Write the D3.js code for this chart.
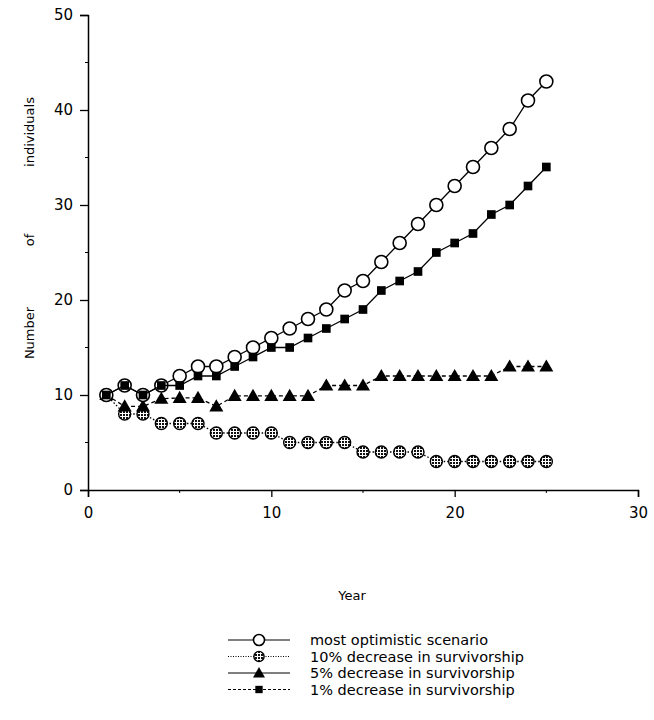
<!DOCTYPE html>
<html><head><meta charset="utf-8">
<script src="https://cdn.jsdelivr.net/npm/d3@7"></script>
<style>body{margin:0;background:#fff} text{font-family:"DejaVu Sans",sans-serif;fill:#000}</style>
</head><body><svg id="c" width="654" height="720"></svg>
<script>
const years = [1,2,3,4,5,6,7,8,9,10,11,12,13,14,15,16,17,18,19,20,21,22,23,24,25];
const optimistic = [10,11,10,11,12,13,13,14,15,16,17,18,19,21,22,24,26,28,30,32,34,36,38,41,43];
const dec10 = [10,8,8,7,7,7,6,6,6,6,5,5,5,5,4,4,4,4,3,3,3,3,3,3,3];
const dec5 = [10,8.8,8.8,9.6,9.7,9.7,8.8,9.9,9.9,9.9,9.9,9.9,11,11,11,12,12,12,12,12,12,12,13,13,13];
const dec1 = [10,11,10,11,11,12,12,13,14,15,15,16,17,18,19,21,22,23,25,26,27,29,30,32,34];
const xTicks = [0,10,20,30];
const yTicks = [0,10,20,30,40,50];
const legendLabels = ["most optimistic scenario","10% decrease in survivorship","5% decrease in survivorship","1% decrease in survivorship"];

const svg = d3.select("#c");
const x = d3.scaleLinear().domain([0,30]).range([88,638]);
const y = d3.scaleLinear().domain([0,50]).range([490,15]);

const defs = svg.append("defs");
const pat = defs.append("pattern").attr("id","hatch").attr("patternUnits","userSpaceOnUse").attr("width",3).attr("height",3);
pat.append("rect").attr("width",3).attr("height",3).attr("fill","#fff");
pat.append("rect").attr("width",2).attr("height",2).attr("fill","#111");

// axes
const xAxis = d3.axisBottom(x).tickValues(xTicks).tickSize(7).tickPadding(10).tickFormat(d3.format("d"));
const gx = svg.append("g").attr("transform",`translate(0,${y(0)})`).call(xAxis);
const yAxis = d3.axisLeft(y).tickValues(yTicks).tickSize(8).tickPadding(7).tickFormat(d3.format("d"));
const gy = svg.append("g").attr("transform",`translate(${x(0)},0)`).call(yAxis);
[gx,gy].forEach(g=>{
  g.select(".domain").attr("stroke","#000").attr("stroke-width",1.5);
  g.selectAll(".tick line").attr("stroke","#000").attr("stroke-width",1.3);
  g.selectAll("text").style("font-size","15px").style("font-family","DejaVu Sans, sans-serif");
});
// minor ticks
svg.append("g").selectAll("line").data([5,15,25]).join("line")
  .attr("x1",d=>x(d)).attr("x2",d=>x(d)).attr("y1",y(0)).attr("y2",y(0)+3).attr("stroke","#000");
svg.append("g").selectAll("line").data([5,15,25,35,45]).join("line")
  .attr("x1",x(0)-3).attr("x2",x(0)).attr("y1",d=>y(d)).attr("y2",d=>y(d)).attr("stroke","#000");

// axis titles
svg.append("text").attr("x",352).attr("y",600).attr("text-anchor","middle").style("font-size","13px").text("Year");
const ylab = [["Number",333],["of",240],["individuals",132]];
ylab.forEach(([t,cy])=>{
  svg.append("text").attr("transform",`translate(34,${cy}) rotate(-90)`).attr("text-anchor","middle").style("font-size","13px").text(t);
});

const line = d3.line().x(d=>x(d[0])).y(d=>y(d[1]));
const series = [
  {vals:dec10, dash:"1.5,2", sym:"hatch"},
  {vals:dec5, dash:"4,3", sym:"tri"},
  {vals:optimistic, dash:null, sym:"circle"},
  {vals:dec1, dash:null, sym:"square"}
];
function drawSym(g, kind, cx, cy, scale){
  scale = scale||1;
  if(kind==="circle") g.append("circle").attr("cx",cx).attr("cy",cy).attr("r",6.5*scale).attr("fill","#fff").attr("stroke","#000").attr("stroke-width",1.6);
  else if(kind==="hatch") g.append("circle").attr("cx",cx).attr("cy",cy).attr("r",6*scale).attr("fill","url(#hatch)").attr("stroke","#000").attr("stroke-width",1.4);
  else if(kind==="tri") g.append("path").attr("transform",`translate(${cx},${cy+1})`).attr("d",d3.symbol(d3.symbolTriangle, 85*scale*scale)()).attr("fill","#000");
  else g.append("path").attr("transform",`translate(${cx},${cy})`).attr("d",d3.symbol(d3.symbolSquare, 75*scale*scale)()).attr("fill","#000");
}
series.forEach(s=>{
  const pts = years.map((yr,i)=>[yr,s.vals[i]]);
  svg.append("path").datum(pts).attr("d",line).attr("fill","none").attr("stroke","#000").attr("stroke-width",1.3)
    .attr("stroke-dasharray",s.dash);
  const g = svg.append("g");
  pts.forEach(p=>drawSym(g,s.sym,x(p[0]),y(p[1])));
});

// legend
const legSyms = ["circle","hatch","tri","square"];
const legDash = [null,"1,1.5",null,"3,2"];
legendLabels.forEach((t,i)=>{
  const ly = 640 + i*16.5;
  svg.append("line").attr("x1",228).attr("x2",290).attr("y1",ly).attr("y2",ly).attr("stroke","#000").attr("stroke-width",1.2).attr("stroke-dasharray",legDash[i]);
  drawSym(svg,legSyms[i],259,ly,0.85);
  svg.append("text").attr("x",310).attr("y",ly+5).style("font-size","14.5px").text(t);
});
</script></body></html>
